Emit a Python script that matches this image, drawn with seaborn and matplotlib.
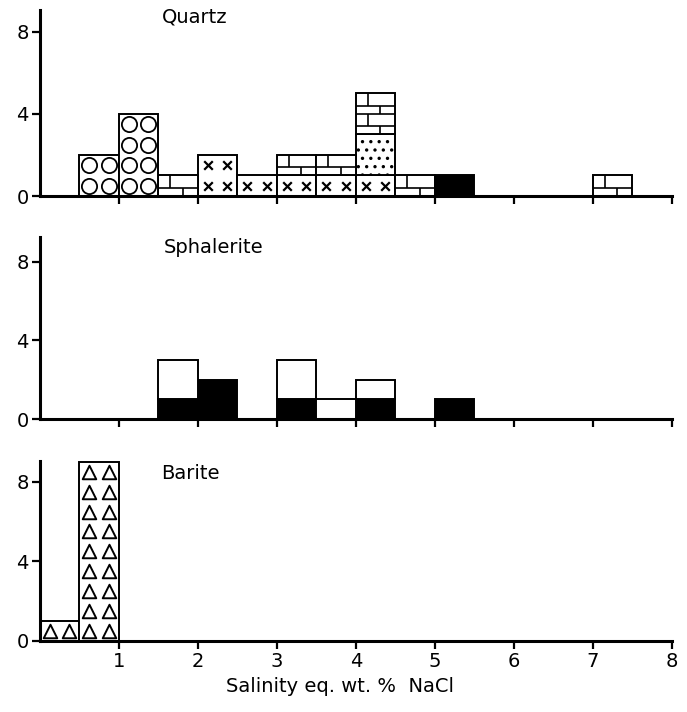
import matplotlib
matplotlib.use("Agg")
import matplotlib.pyplot as plt
import numpy as np
import pandas as pd
import seaborn as sns

sns.set_theme(style="ticks")
plt.rcParams["font.family"] = ["DejaVu Sans"]
plt.rcParams["text.color"] = "black"
plt.rcParams["axes.labelcolor"] = "black"
plt.rcParams["xtick.color"] = "black"
plt.rcParams["ytick.color"] = "black"
plt.rcParams["hatch.linewidth"] = 1.2

# salinity classes, 0.5 wt.% wide (left edges)
bin_left = [0.0, 0.5, 1.0, 1.5, 2.0, 2.5, 3.0, 3.5, 4.0, 4.5, 5.0, 5.5, 6.0, 6.5, 7.0, 7.5]
bin_width = 0.5

# number of inclusions per class, by symbol
quartz_circles = [0, 2, 4, 0, 0, 0, 0, 0, 0, 0, 0, 0, 0, 0, 0, 0]
quartz_crosses = [0, 0, 0, 0, 2, 1, 1, 1, 1, 0, 0, 0, 0, 0, 0, 0]
quartz_dots = [0, 0, 0, 0, 0, 0, 0, 0, 2, 0, 0, 0, 0, 0, 0, 0]
quartz_bricks = [0, 0, 0, 1, 0, 0, 1, 1, 2, 1, 0, 0, 0, 0, 1, 0]
quartz_black = [0, 0, 0, 0, 0, 0, 0, 0, 0, 0, 1, 0, 0, 0, 0, 0]

sphalerite_black = [0, 0, 0, 1, 2, 0, 1, 0, 1, 0, 1, 0, 0, 0, 0, 0]
sphalerite_open = [0, 0, 0, 2, 0, 0, 2, 1, 1, 0, 0, 0, 0, 0, 0, 0]

barite_triangles = [1, 9, 0, 0, 0, 0, 0, 0, 0, 0, 0, 0, 0, 0, 0, 0]

x_ticks = [1, 2, 3, 4, 5, 6, 7, 8]
y_ticks = [0, 4, 8]

fill_colors = {"circles": "white", "crosses": "white", "dots": "white",
               "bricks": "white", "black": "black", "open": "white",
               "triangles": "white"}

# panels: title, series listed bottom -> top of the stack
panels = [
    ("Quartz", {"crosses": quartz_crosses, "dots": quartz_dots,
                "bricks": quartz_bricks, "circles": quartz_circles,
                "black": quartz_black}),
    ("Sphalerite", {"black": sphalerite_black, "open": sphalerite_open}),
    ("Barite", {"triangles": barite_triangles}),
]


def long_table(series):
    rows = []
    for name, counts in series.items():
        for left, n in zip(bin_left, counts):
            rows.append({"salinity": left + bin_width / 2, "n": n, "kind": name})
    return pd.DataFrame(rows)


line_kw = dict(color="black", lw=1.2, zorder=4, solid_capstyle="butt")


def draw_symbols(ax, patch, kind):
    x, y = patch.get_x(), patch.get_y()
    w, h = patch.get_width(), patch.get_height()
    units = int(round(h))
    if kind == "dots":
        patch.set_hatch("..")
        return
    for k in range(units):
        y0 = y + k
        if kind == "bricks":
            ym = y0 + 0.4
            ax.plot([x, x + w], [ym, ym], **line_kw)
            if k > 0:
                ax.plot([x, x + w], [y0, y0], **line_kw)
            ax.plot([x + 0.62 * w] * 2, [y0, ym], **line_kw)
            ax.plot([x + 0.3 * w] * 2, [ym, y0 + 1], **line_kw)
            continue
        xs = [x + 0.25 * w, x + 0.75 * w]
        ys = [y0 + 0.5, y0 + 0.5]
        if kind == "circles":
            ax.scatter(xs, ys, s=120, marker="o", facecolor="white",
                       edgecolor="black", linewidth=1.3, zorder=4)
        elif kind == "crosses":
            ax.scatter(xs, ys, s=38, marker="x", color="black",
                       linewidth=1.6, zorder=4)
        elif kind == "triangles":
            ax.scatter(xs, ys, s=95, marker="^", facecolor="white",
                       edgecolor="black", linewidth=1.4, zorder=4)


fig = plt.figure(figsize=(6.87, 7.12), dpi=100)
rects = [[0.058, 0.7247, 0.92, 0.261],
         [0.058, 0.4115, 0.92, 0.2556],
         [0.058, 0.100, 0.92, 0.2528]]
y_tops = [9.05, 9.25, 9.05]
title_pos = [(1.96, 8.7), (2.2, 8.7), (1.9, 8.4)]

for i, (title, series) in enumerate(panels):
    ax = fig.add_axes(rects[i])
    df = long_table(series)
    # seaborn puts the first hue level on top of the stack
    order = list(series.keys())[::-1]
    sns.histplot(data=df, x="salinity", weights="n", hue="kind",
                 hue_order=order, multiple="stack", binwidth=bin_width,
                 binrange=(0, 8), palette=fill_colors, edgecolor="black",
                 linewidth=1.4, alpha=1, legend=False, ax=ax)

    for cont in ax.containers:
        heights = np.array([p.get_height() for p in cont])
        for name, counts in series.items():
            if np.allclose(heights, counts):
                for p in cont:
                    if p.get_height() > 0:
                        draw_symbols(ax, p, name)
                    else:
                        p.set_linewidth(0)

    ax.set_xlim(0, 8)
    ax.set_ylim(0, y_tops[i])
    ax.set_xticks(x_ticks)
    ax.set_yticks(y_ticks)
    ax.set_ylabel("")
    ax.set_xlabel("")
    sns.despine(ax=ax)
    for side in ("left", "bottom"):
        ax.spines[side].set_linewidth(2.2)
        ax.spines[side].set_color("black")
    ax.tick_params(axis="both", direction="out", length=6, width=1.6,
                   pad=2, labelsize=14)
    if i < 2:
        ax.tick_params(axis="x", labelbottom=False)
    ax.text(title_pos[i][0], title_pos[i][1], title, ha="center",
            va="center", fontsize=14)

ax.set_xlabel("Salinity eq. wt. %  NaCl", fontsize=14)
ax.xaxis.set_label_coords(0.475, -0.2)

fig.savefig("out.png", dpi=100)
